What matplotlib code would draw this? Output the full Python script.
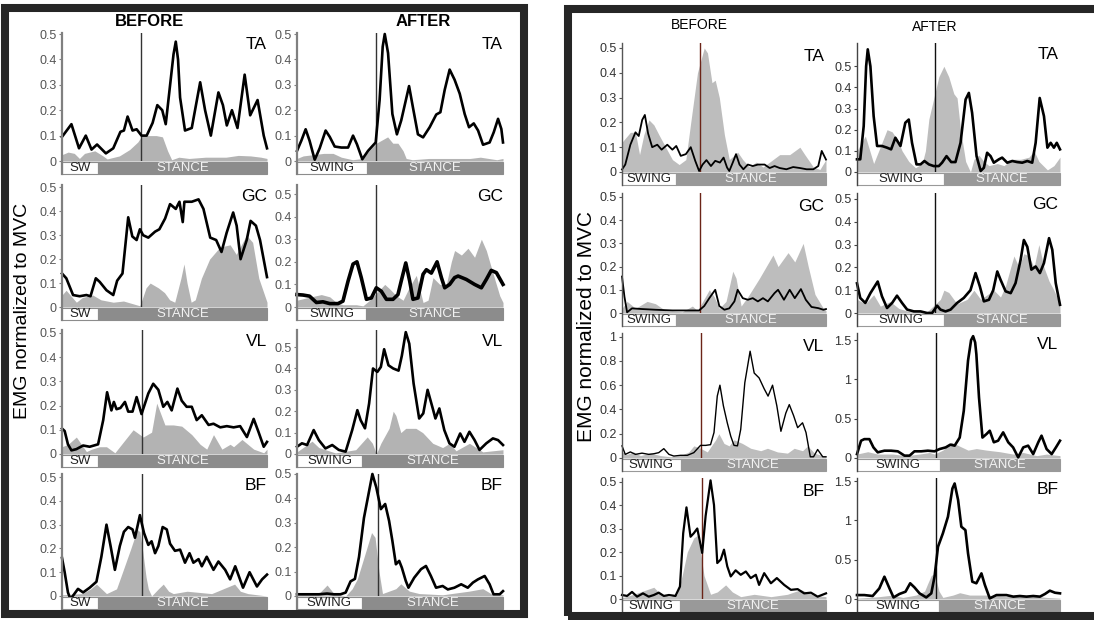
import matplotlib
matplotlib.use('Agg')
import matplotlib.pyplot as plt
from matplotlib.patches import Rectangle
from matplotlib.lines import Line2D
from matplotlib.ticker import FuncFormatter

plt.rcParams['font.family'] = ['Liberation Sans', 'DejaVu Sans']

W, H = 1094, 620
MUSCLES = ['TA', 'GC', 'VL', 'BF']

# ---- gait cycle events (% of cycle) ----
P1_BEFORE_SWING = [17.6, 17.6, 17.6, 17.6]
P1_BEFORE_CONTACT = [38.5, 38.3, 38.8, 38.8]
P1_AFTER_SWING = [34, 33.7, 31.7, 31.4]
P1_AFTER_CONTACT = [38.2, 38.2, 38.5, 39.5]
P2_BEFORE_SWING = [26.6, 26.6, 28.7, 28.4]
P2_BEFORE_CONTACT = [38.2, 38.2, 38.9, 39.3]
P2_AFTER_SWING = [42.8, 42.8, 40.7, 40.4]
P2_AFTER_CONTACT = [38.2, 38.2, 39, 39]

# ---- y range shown and ticks ----
T5 = [0, 0.1, 0.2, 0.3, 0.4, 0.5]
P1_BEFORE_YTOP = [0.504, 0.51, 0.512, 0.513]
P1_AFTER_YTOP = [0.504, 0.54, 0.58, 0.5]
P2_BEFORE_YTOP = [0.52, 0.517, 1.03, 0.515]
P2_AFTER_YTOP = [0.61, 0.526, 1.59, 1.54]
P2_BEFORE_TICKS = [T5, T5, [0, 0.2, 0.4, 0.6, 0.8, 1], T5]
P2_AFTER_TICKS = [T5, T5, [0, 0.5, 1, 1.5], [0, 0.5, 1, 1.5]]

# ---- EMG traces: (% gait cycle, EMG / MVC) ----
P1_BEFORE_TA_LINE = [(0, .095), (4.6, .145), (8.3, .05), (11.6, .10), (14.4, .045), (17.1, .065), (21.4, .03),
                     (25, .05), (28.5, .115), (30.2, .12), (32, .175), (34.4, .12), (36.4, .125), (38.8, .10),
                     (41.3, .10), (44.2, .15), (46.5, .22), (48.9, .20), (50.6, .145), (54.4, .42), (55.5, .47),
                     (56.6, .40), (57.6, .25), (60, .12), (63.3, .13), (67.4, .31), (69.8, .20), (72.6, .10),
                     (76.3, .27), (78.5, .22), (80.4, .14), (82.9, .20), (85.6, .13), (89.1, .34), (91.8, .18),
                     (95.4, .24), (98.4, .10), (100, .05)]
P1_BEFORE_TA_FILL = [(0, .025), (3, .035), (6, .03), (8.5, .01), (11, .03), (16, .04), (20, .02), (22, .008),
                     (28, .02), (33, .045), (37, .075), (39, .1), (46, .1), (49, .095), (51.5, .04), (53.5, .005),
                     (57, .015), (62, .01), (70, .015), (80, .015), (86, .022), (92, .02), (97, .015), (100, .01)]
P1_BEFORE_GC_LINE = [(0, .14), (2.1, .12), (5.4, .05), (8.6, .045), (11.9, .05), (13.9, .045), (16.5, .12),
                     (18.4, .105), (21.7, .07), (25, .05), (26.9, .11), (29.5, .14), (32.3, .375), (34.3, .295),
                     (36.4, .28), (38, .325), (39.6, .30), (42.1, .29), (45.4, .315), (47.5, .325), (50.3, .37),
                     (52.7, .43), (55.5, .41), (57.3, .44), (58.9, .355), (59.7, .44), (63.3, .44), (66.6, .45),
                     (69, .41), (72.3, .29), (75.2, .28), (77.8, .23), (80.3, .31), (83.5, .395), (85.2, .34),
                     (87.1, .20), (90.1, .28), (92, .36), (94.6, .34), (96.6, .28), (100, .125)]
P1_BEFORE_GC_FILL = [(0, .05), (2, .07), (5, .04), (7, .02), (10, .04), (15, .05), (19, .03), (25, .02), (30, .025),
                     (34, .015), (38, .005), (41, .08), (43, .1), (47, .08), (50, .06), (52.5, .03), (55, .02),
                     (58, .12), (59.5, .18), (61, .1), (63, .02), (65, .03), (68, .12), (72, .2), (77, .25),
                     (82, .26), (85, .22), (90, .3), (93, .27), (96, .12), (100, .02)]
P1_BEFORE_VL_LINE = [(0, .105), (1.3, .095), (2.9, .04), (4.6, .015), (7, .02), (10.3, .035), (13.5, .03),
                     (17.6, .04), (20.1, .14), (22, .255), (24.1, .18), (25.3, .215), (26.6, .185), (28.5, .19),
                     (30.7, .215), (32.3, .175), (34.4, .175), (36.4, .235), (38.8, .165), (42.1, .25), (44.5, .29),
                     (47, .265), (49.4, .195), (51.4, .215), (53.5, .18), (56.3, .27), (58.4, .22), (60.8, .195),
                     (63.3, .195), (65.7, .14), (68.2, .16), (71.5, .12), (73.9, .125), (77.2, .11), (80.4, .115),
                     (83.7, .11), (86.9, .115), (90.2, .07), (93.5, .145), (95.9, .09), (98.4, .03), (100, .05)]
P1_BEFORE_VL_FILL = [(0, .03), (3, .04), (7, .07), (11.9, .01), (14.5, .02), (18.4, .03), (21.7, .03), (25.8, .005),
                     (30, .05), (34.7, .10), (39.6, .07), (43.7, .09), (46.2, .21), (50.2, .12), (54.3, .12),
                     (58.4, .115), (63.3, .08), (67.4, .04), (70.6, .02), (73.9, .08), (78, .02), (82, .04),
                     (83.7, .03), (87.8, .06), (93.5, .02), (98.4, .005), (100, .02)]
P1_BEFORE_BF_LINE = [(0, .16), (1.3, .10), (2.9, .015), (4.1, -.012), (5.7, .005), (7.8, .03), (10.3, .015),
                     (13.5, .035), (16.8, .06), (19.2, .165), (21.7, .30), (23.7, .21), (25.8, .11), (28.2, .21),
                     (30.2, .27), (32.3, .29), (34.4, .28), (35.6, .245), (38, .34), (40, .265), (42.1, .215),
                     (43.7, .23), (45.4, .18), (47, .21), (49.1, .29), (51.1, .28), (52.7, .22), (55.1, .19),
                     (57.6, .195), (60, .14), (62.2, .18), (64.1, .14), (66.6, .155), (68.2, .125), (70.6, .165),
                     (73.9, .11), (76.3, .145), (79.6, .11), (82, .07), (84.5, .125), (88.3, .035), (91.5, .10),
                     (95.1, .04), (97.6, .07), (100, .09)]
P1_BEFORE_BF_FILL = [(0, .005), (10, .01), (14, .03), (16.8, .05), (21.7, .01), (26.6, .03), (29.5, .1), (33.6, .2),
                     (36.7, .28), (38, .27), (39.2, .2), (41, .08), (42.1, .03), (43.7, .0), (47, .03), (49.4, .05),
                     (52, .02), (54.3, .01), (61, .02), (73, .01), (84.2, .05), (87, .02), (90.7, .01), (100, .0)]

P1_AFTER_TA_LINE = [(0, .04), (2.1, .08), (4.2, .125), (6.1, .08), (8.6, .005), (11, .05), (13.9, .12),
                    (15.9, .095), (18.3, .057), (21.5, .053), (24.8, .053), (27.2, .10), (29.1, .066), (31.7, .007),
                    (34.5, .04), (38.2, .073), (40.1, .24), (41.6, .45), (42.6, .50), (44.2, .425), (46.3, .185),
                    (48.5, .105), (50.6, .16), (54.4, .295), (56.3, .21), (58.7, .105), (61.2, .093), (64.4, .133),
                    (67.6, .183), (69.6, .192), (71.7, .28), (74.1, .36), (76.5, .32), (79, .265), (81.4, .185),
                    (83.5, .133), (85.8, .148), (87.9, .12), (90.3, .064), (93.5, .073), (95.5, .113),
                    (97.6, .166), (99.2, .126), (100, .073)]
P1_AFTER_TA_FILL = [(0, .01), (3, .02), (13, .03), (17.5, .03), (21.5, .015), (27, .005), (32, .01), (35, .04),
                    (38.5, .07), (44, .095), (46.5, .07), (49, .07), (51.5, .04), (53, .01), (56, .005), (64, .01),
                    (84, .01), (89, .015), (97, .005), (100, .01)]
P1_AFTER_GC_LINE = [(0, .055), (2.9, .053), (6.1, .048), (9.4, .02), (12.6, .023), (15.9, .015), (19.9, .015),
                    (22.3, .026), (24.8, .115), (27.2, .19), (29.1, .20), (31.2, .13), (33.7, .034), (36.1, .04),
                    (38.5, .085), (40.9, .07), (43.4, .034), (46.6, .034), (49, .055), (50.6, .115), (52.8, .195),
                    (54.7, .115), (56.3, .034), (58.7, .04), (61.2, .145), (62.8, .165), (65.2, .15), (68, .20),
                    (70.1, .13), (71.7, .085), (74.1, .10), (76.5, .13), (78.2, .137), (82.2, .122), (86.2, .10),
                    (89.5, .085), (91.9, .122), (94.3, .162), (96.8, .152), (100, .10)]
P1_AFTER_GC_FILL = [(0, .03), (4.5, .04), (11.8, .055), (15.9, .045), (19.1, .02), (22.3, .01), (28.8, .01),
                    (32, .005), (35.3, .03), (42.6, .10), (45, .08), (48.2, .05), (51.5, .03), (54.7, .09),
                    (57.9, .14), (61.2, .02), (63.6, .03), (66, .13), (69.3, .10), (72.5, .10), (74.9, .20),
                    (76.5, .25), (79.8, .23), (83, .26), (86.2, .22), (89.5, .30), (91.9, .25), (95.1, .15),
                    (98.4, .05), (100, .02)]
P1_AFTER_VL_LINE = [(0, .034), (2.4, .05), (4.9, .042), (8.1, .112), (10.6, .065), (13.8, .026), (17.1, .042),
                    (20.3, .019), (23.6, .011), (26.8, .112), (29.3, .205), (30.9, .158), (33, .12), (35, .236),
                    (36.9, .40), (39, .384), (40.7, .407), (42.3, .49), (44.4, .415), (46.7, .40), (49.3, .39),
                    (50.9, .46), (52.8, .57), (54.5, .516), (56.6, .33), (59.3, .166), (61.3, .19), (63.4, .30),
                    (65.9, .213), (67.2, .166), (69.1, .213), (71.5, .112), (74, .05), (76.4, .034), (79.2, .096),
                    (81.3, .057), (83.7, .104), (86.2, .065), (88.6, .019), (91.9, .05), (95.1, .073),
                    (97.6, .065), (100, .042)]
P1_AFTER_VL_FILL = [(0, .01), (7.3, .06), (10.6, .03), (18.7, .005), (28.5, .02), (34.1, .08), (36.6, .05),
                    (38.5, .0), (40.7, .05), (44.7, .12), (46.7, .20), (48, .18), (50.4, .10), (52.8, .12),
                    (57.7, .12), (61, .10), (65.9, .05), (70.7, .03), (74, .05), (77.2, .015), (83.7, .05),
                    (90.2, .01), (100, .02)]
P1_AFTER_BF_LINE = [(0, .007), (5.7, .007), (10.6, .007), (14.6, .01), (17.9, .007), (21.1, .007), (23.6, .014),
                    (26, .06), (28.1, .07), (30.1, .16), (32.5, .32), (35, .43), (36.6, .50), (38.5, .445),
                    (40.7, .356), (42.8, .377), (44.7, .308), (46.3, .226), (48, .13), (49.6, .144), (50.9, .116),
                    (52.8, .062), (54.1, .034), (56.9, .075), (60.2, .11), (62.6, .123), (65, .082), (67.5, .034),
                    (70.7, .041), (73.2, .027), (76.4, .034), (79.7, .048), (82.9, .034), (85.4, .055),
                    (87.8, .068), (91.1, .082), (93.5, .048), (95.4, .007), (98.4, .007), (100, .02)]
P1_AFTER_BF_FILL = [(0, .005), (10.6, .01), (14.6, .045), (17.9, .01), (23.6, .0), (26.8, .03), (29.3, .07),
                    (33.3, .18), (36.2, .26), (37.9, .24), (39.8, .10), (41.5, .01), (48, .03), (50.4, .05),
                    (54.5, .02), (59.3, .01), (70.7, .005), (83.7, .02), (90.2, .03), (95.1, .005), (100, .005)]

P2_BEFORE_TA_LINE = [(0, .01), (1.6, .03), (4.1, .11), (6.6, .16), (8.2, .145), (9.9, .21), (11.2, .23),
                     (12.8, .155), (14.8, .10), (17.3, .11), (19.4, .09), (22.2, .11), (24.7, .09), (26.6, .105),
                     (28.8, .065), (31.3, .072), (33.7, .10), (35.9, .045), (37.8, .004), (39.5, .03), (41.4, .048),
                     (43.6, .024), (45.7, .045), (48, .038), (49.8, .058), (51.5, .018), (52.6, .004), (54.3, .038),
                     (55.9, .072), (57.6, .03), (59.5, .011), (61.7, .03), (64.1, .024), (66.6, .03), (69.9, .03),
                     (72.4, .016), (74.8, .024), (77.3, .016), (80.6, .011), (83.9, .02), (87.2, .016),
                     (90.5, .011), (93.8, .011), (96.2, .024), (97.9, .085), (100, .05)]
P2_BEFORE_TA_FILL = [(0, .12), (4.1, .16), (6.6, .16), (8.6, .07), (10.7, .15), (13.2, .21), (15.6, .19),
                     (18.1, .15), (21.4, .10), (24.7, .05), (28, .03), (31.3, .05), (33.7, .2), (37, .40),
                     (40.3, .50), (41.9, .48), (44.1, .36), (45.7, .37), (47.7, .30), (50.2, .15), (52.6, .05),
                     (56.7, .08), (59.2, .05), (62.5, .02), (65.8, .04), (69.1, .02), (72.4, .04), (77.3, .07),
                     (82.2, .07), (87.2, .10), (89.6, .07), (93.8, .02), (97, .01), (100, .05)]
P2_BEFORE_GC_LINE = [(0, .157), (1.2, .07), (2.5, .003), (4.9, .02), (9.9, .017), (16.4, .014), (24.7, .011),
                     (32.9, .011), (37.8, .011), (40.3, .03), (42.8, .064), (45.7, .10), (47.7, .03), (50.2, .014),
                     (52.6, .02), (55.1, .05), (56.7, .10), (59.2, .064), (61.7, .057), (64.1, .064), (66.6, .05),
                     (69.1, .064), (71.5, .05), (74.8, .086), (76.5, .10), (79.4, .057), (82.2, .10), (84.7, .064),
                     (87.7, .103), (90.1, .057), (92.9, .026), (96.2, .021), (98.7, .014), (100, .017)]
P2_BEFORE_GC_FILL = [(0, .02), (2.5, .05), (6.6, .02), (12.3, .05), (16.4, .04), (21.4, .01), (29.6, .005),
                     (34.5, .03), (37, .01), (42.8, .10), (45.2, .07), (47.7, .02), (51, .05), (54.3, .18),
                     (55.9, .15), (58.4, .03), (61.7, .07), (67.4, .15), (74, .25), (76.5, .20), (81.4, .26),
                     (84.7, .22), (88.8, .30), (91.3, .20), (94.6, .08), (98.7, .02), (100, .01)]
P2_BEFORE_VL_LINE = [(0, .10), (1.6, .03), (4.1, .05), (6.6, .03), (9.8, .04), (13.1, .03), (15.6, .035),
                     (18, .044), (20.5, .077), (23, .03), (25.4, .016), (28.7, .022), (32, .022), (35.2, .044),
                     (38.5, .104), (41, .104), (43.4, .11), (45.1, .21), (46.7, .51), (48, .60), (49.7, .43),
                     (51.6, .29), (53.3, .18), (54.9, .104), (56.6, .10), (58.2, .236), (60.2, .62), (62.8, .88),
                     (64.8, .70), (67.2, .66), (69.7, .57), (71.6, .51), (73.8, .60), (75.9, .43), (77.9, .22),
                     (80.3, .37), (82, .44), (84.1, .35), (86.1, .25), (88.5, .29), (90.2, .21), (92.3, .01),
                     (93.9, .01), (95.9, .07), (98.4, .01), (100, .01)]
P2_BEFORE_VL_FILL = [(0, .05), (2.5, .03), (5.7, .05), (9, .02), (13.9, .04), (18.9, .02), (23.8, .01),
                     (28.7, .02), (32.8, .05), (35.2, .10), (38.5, .08), (41.8, .05), (45.9, .15), (47.5, .20),
                     (50, .12), (52.5, .10), (54.9, .15), (59, .12), (63.1, .08), (68, .06), (71.3, .08),
                     (76.2, .05), (81.1, .04), (84.4, .08), (88.5, .06), (91, .10), (94.3, .04), (100, .01)]
P2_BEFORE_BF_LINE = [(0, .017), (2.5, .013), (4.9, .03), (7.4, .01), (10.3, .024), (13.1, .01), (15.6, .017),
                     (18, .027), (20.5, .013), (23, .017), (26.2, .013), (28.4, .053), (30, .28), (31.6, .39),
                     (33.6, .265), (35.2, .28), (36.9, .30), (39.3, .196), (41, .354), (43.4, .505), (45.1, .40),
                     (46.7, .153), (48.4, .168), (50, .21), (51.6, .139), (53.3, .096), (55.7, .122), (58.2, .103),
                     (60.7, .117), (63.1, .089), (65.6, .103), (67.2, .06), (69.7, .11), (73, .067), (75.9, .089),
                     (79.5, .06), (82.8, .039), (86.1, .042), (89.3, .024), (92.6, .027), (95.9, .01), (100, .024)]
P2_BEFORE_BF_FILL = [(0, .005), (5.7, .02), (9, .03), (15.6, .05), (18.9, .02), (23.8, .01), (27, .02),
                     (29.5, .10), (32, .20), (35.2, .26), (36.9, .27), (38.5, .20), (40.2, .10), (43.4, .02),
                     (46.7, .03), (50.8, .06), (54.1, .03), (58.2, .01), (64.8, .02), (73, .01), (81.1, .02),
                     (87.7, .04), (94.3, .015), (100, .01)]

P2_AFTER_TA_LINE = [(0, .06), (1.6, .06), (3.3, .217), (4.5, .50), (5.3, .58), (6.6, .50), (8.2, .264), (9.9, .123),
                    (12.3, .123), (14.8, .115), (16.8, .107), (18.9, .162), (21.4, .123), (23.8, .233),
                    (25.5, .248), (27.1, .138), (29.3, .036), (31.3, .036), (33.2, .052), (35.4, .036),
                    (37.8, .028), (40.3, .028), (41.9, .044), (44.1, .075), (46.4, .047), (48.5, .047),
                    (51, .138), (53.5, .343), (55.1, .374), (56.7, .28), (58.9, .075), (60.9, .005), (62.5, .02),
                    (64.1, .091), (65.8, .075), (67.4, .044), (69.9, .06), (71.5, .068), (74, .044), (76.5, .052),
                    (78.9, .047), (81.4, .044), (83.9, .052), (86.3, .044), (88, .138), (90, .35), (92.1, .264),
                    (93.8, .115), (95.4, .138), (97, .115), (98.4, .138), (100, .107)]
P2_AFTER_TA_FILL = [(0, .10), (4.1, .17), (8.2, .04), (10.7, .10), (14.8, .20), (17.3, .19), (20.1, .15),
                    (22.2, .10), (25.5, .05), (28.8, .02), (32.1, .04), (33.7, .10), (35.4, .25), (40.3, .45),
                    (42.8, .50), (45.2, .45), (47.7, .37), (49.3, .35), (51, .20), (53.5, .05), (55.9, .0),
                    (57.6, .06), (60, .08), (62.5, .05), (65, .03), (69.1, .04), (72.4, .03), (76.5, .06),
                    (80.6, .06), (84.7, .07), (87.2, .10), (89.6, .05), (93.8, .01), (97, .03), (100, .07)]
P2_AFTER_GC_LINE = [(0, .13), (1.6, .066), (4.1, .044), (6.6, .087), (10.2, .138), (12.3, .073), (14.8, .022),
                    (17.3, .044), (19.7, .076), (22.2, .044), (24.7, .015), (28, .007), (31.3, .007), (34.5, .0),
                    (37, .0), (39.5, .032), (41.1, .015), (43.6, .007), (46.1, .015), (49.3, .044), (52.6, .066),
                    (55.9, .10), (58.4, .175), (60.5, .117), (62.5, .051), (65, .058), (67.1, .10), (69.1, .182),
                    (70.7, .146), (73.2, .095), (75.7, .087), (78.1, .131), (80.6, .233), (82.2, .32), (83.9, .29),
                    (85.9, .19), (88, .204), (90.1, .175), (92.1, .219), (94.6, .328), (96.2, .277), (97.9, .131),
                    (100, .036)]
P2_AFTER_GC_FILL = [(0, .06), (4.1, .04), (8.2, .08), (11.5, .03), (16.4, .05), (20.6, .02), (26.3, .005),
                    (34.5, .005), (41.1, .06), (42.8, .10), (45.2, .09), (49.3, .04), (54.3, .06), (57.6, .10),
                    (60.9, .06), (67.4, .10), (70.7, .07), (73.2, .12), (75.7, .20), (77.3, .25), (79.8, .20),
                    (82.2, .26), (84.7, .25), (87.2, .20), (89.6, .30), (92.1, .20), (94.6, .14), (97, .10),
                    (100, .04)]
P2_AFTER_VL_LINE = [(0, .05), (2, .22), (3.6, .24), (6.1, .24), (8.1, .135), (10.2, .072), (13.5, .093),
                    (16.8, .093), (20.1, .085), (23.4, .03), (25.9, .03), (28.3, .085), (31.6, .085), (34.9, .093),
                    (38.2, .085), (40.7, .114), (43.7, .135), (46, .17), (48.1, .157), (50.6, .26), (52.6, .60),
                    (54.7, 1.24), (56.2, 1.5), (57.2, 1.55), (58.2, 1.47), (58.8, 1.32), (60.1, .77), (61.8, .26),
                    (63.8, .305), (65.4, .347), (67.4, .20), (69.5, .22), (72, .326), (74.5, .20), (76.9, .135),
                    (79.4, .008), (81.9, .135), (84.3, .157), (86.8, .05), (89.3, .20), (90.9, .284), (93.4, .114),
                    (95.9, .05), (98, .135), (100, .22)]
P2_AFTER_VL_FILL = [(0, .05), (5.3, .08), (10.2, .05), (17.6, .05), (24.2, .03), (30.8, .05), (35.7, .07),
                    (38.2, .05), (42.3, .10), (46.5, .20), (50.6, .15), (54.7, .10), (58.8, .12), (63.8, .10),
                    (70.3, .08), (76.9, .05), (81.9, .07), (88.5, .03), (93.4, .05), (100, .03)]
P2_AFTER_BF_LINE = [(0, .05), (3.6, .05), (7.7, .038), (11, .135), (13.5, .284), (16, .135), (18, .02),
                    (20.9, .064), (23.9, .093), (26.2, .20), (28.3, .148), (30.8, .072), (34.1, .02), (36.6, .072),
                    (38.2, .284), (39.9, .665), (42.3, .835), (44.8, 1.047), (47, 1.406), (48.1, 1.47),
                    (49.8, 1.26), (51.4, .92), (53.4, .877), (54.7, .58), (56.8, .22), (58.8, .20), (61.3, .326),
                    (63, .178), (65.4, .008), (68.7, .05), (73.6, .05), (77, .03), (80.2, .038), (83.5, .03),
                    (86.8, .038), (90.1, .03), (92.6, .064), (95, .106), (97.5, .08), (100, .072)]
P2_AFTER_BF_FILL = [(0, .01), (11, .03), (17.6, .05), (22.6, .02), (29.1, .05), (33.3, .10), (34.9, .20),
                    (36.6, .30), (38.2, .32), (40.4, .10), (42.3, .02), (47.3, .05), (50.6, .08), (55.5, .05),
                    (63.8, .05), (73.6, .03), (83.5, .05), (93.4, .02), (100, .01)]

P1_BEFORE = [(P1_BEFORE_TA_LINE, P1_BEFORE_TA_FILL), (P1_BEFORE_GC_LINE, P1_BEFORE_GC_FILL),
             (P1_BEFORE_VL_LINE, P1_BEFORE_VL_FILL), (P1_BEFORE_BF_LINE, P1_BEFORE_BF_FILL)]
P1_AFTER = [(P1_AFTER_TA_LINE, P1_AFTER_TA_FILL), (P1_AFTER_GC_LINE, P1_AFTER_GC_FILL),
            (P1_AFTER_VL_LINE, P1_AFTER_VL_FILL), (P1_AFTER_BF_LINE, P1_AFTER_BF_FILL)]
P2_BEFORE = [(P2_BEFORE_TA_LINE, P2_BEFORE_TA_FILL), (P2_BEFORE_GC_LINE, P2_BEFORE_GC_FILL),
             (P2_BEFORE_VL_LINE, P2_BEFORE_VL_FILL), (P2_BEFORE_BF_LINE, P2_BEFORE_BF_FILL)]
P2_AFTER = [(P2_AFTER_TA_LINE, P2_AFTER_TA_FILL), (P2_AFTER_GC_LINE, P2_AFTER_GC_FILL),
            (P2_AFTER_VL_LINE, P2_AFTER_VL_FILL), (P2_AFTER_BF_LINE, P2_AFTER_BF_FILL)]

# layout in pixels: (zero line y, top y) for each row
P1_ROWS = [(161, 33), (307, 185), (454, 330), (596, 474)]
P2_ROWS = [(172, 43), (313, 193), (458, 333), (599, 478)]

fig = plt.figure(figsize=(W / 100, H / 100), dpi=100)


def fx(px):
    return px / W


def fy(py):
    return 1 - py / H


def add_subplot(x0, x1, row, ymax, ticks, curves, swing, contact, swing_text, style):
    zero, top = row
    ax = fig.add_axes([fx(x0), fy(zero), (x1 - x0) / W, (zero - top) / H])
    ax.patch.set_alpha(0)
    ax.set_xlim(0, 100)
    ax.set_ylim(0, ymax)
    line, fill = curves
    fx_, fy_ = zip(*fill)
    ax.fill_between(fx_, fy_, 0, color=style['fill'], lw=0, zorder=1)
    lx, ly = zip(*line)
    ax.plot(lx, ly, color='black', lw=style['lw'], solid_joinstyle='round', clip_on=False, zorder=3)
    ax.axvline(contact, color=style['vline'], lw=1.0, zorder=2)
    for s in ax.spines.values():
        s.set_visible(False)
    ax.set_xticks([])
    ax.set_yticks(ticks)
    ax.yaxis.set_major_formatter(FuncFormatter(lambda v, _: '%g' % v))
    ax.tick_params(axis='y', length=2, width=0.8, color=style['axis'], pad=2,
                   labelsize=9, labelcolor=style['ticklabel'])

    # swing / stance bar under the trace
    hpx = zero - top
    b0 = -13 / hpx
    bh = 12 / hpx
    tr = ax.get_xaxis_transform()
    ax.add_patch(Rectangle((0, b0), swing, bh, transform=tr, facecolor='white',
                           edgecolor=style['bar'], lw=0.8, clip_on=False, zorder=4))
    ax.add_patch(Rectangle((swing, b0), 100 - swing, bh, transform=tr, facecolor=style['bar'],
                           edgecolor=style['bar'], lw=0.8, clip_on=False, zorder=4))
    ax.text(swing / 2, b0 + bh / 2, swing_text, transform=tr, ha='center', va='center',
            fontsize=9.5, color='#222222', zorder=5, clip_on=False)
    ax.text((100 + swing) / 2, b0 + bh / 2, 'STANCE', transform=tr, ha='center', va='center',
            fontsize=9.5, color='#f2f2f2', zorder=5, clip_on=False)

    # y axis line running down through the bar
    ax.add_line(Line2D([0, 0], [b0, 1], transform=ax.transAxes, color=style['axis'],
                       lw=style['axis_lw'], clip_on=False, zorder=6))
    return ax


STYLE_P1 = dict(fill='#b3b3b3', bar='#8c8c8c', axis='#808080', axis_lw=1.6, vline='#333333',
                ticklabel='#555555', lw=1.9)

# ---- left figure ----
for i, m in enumerate(MUSCLES):
    ax = add_subplot(62, 267, P1_ROWS[i], P1_BEFORE_YTOP[i], T5, P1_BEFORE[i],
                     P1_BEFORE_SWING[i], P1_BEFORE_CONTACT[i], 'SW', STYLE_P1)
    ax.annotate(m, xy=(1, 1), xycoords='axes fraction', xytext=(0, -3), textcoords='offset points',
                ha='right', va='top', fontsize=12.5)
    st = dict(STYLE_P1)
    if m == 'GC':
        st['lw'] = 2.6
    ax = add_subplot(297, 503, P1_ROWS[i], P1_AFTER_YTOP[i], T5, P1_AFTER[i],
                     P1_AFTER_SWING[i], P1_AFTER_CONTACT[i], 'SWING', st)
    ax.annotate(m, xy=(1, 1), xycoords='axes fraction', xytext=(0, -3), textcoords='offset points',
                ha='right', va='top', fontsize=12.5)

# ---- right figure ----
P2_BEFORE_LW = [1.3, 1.3, 1.0, 1.6]
for i, m in enumerate(MUSCLES):
    st = dict(fill='#bdbdbd', bar='#999999', axis='#555555', axis_lw=1.0, vline='#6b2418',
              ticklabel='#333333', lw=P2_BEFORE_LW[i])
    ax = add_subplot(622, 826, P2_ROWS[i], P2_BEFORE_YTOP[i], P2_BEFORE_TICKS[i], P2_BEFORE[i],
                     P2_BEFORE_SWING[i], P2_BEFORE_CONTACT[i], 'SWING', st)
    ax.annotate(m, xy=(1, 1), xycoords='axes fraction', xytext=(-1, -4), textcoords='offset points',
                ha='right', va='top', fontsize=12.5)
    st = dict(fill='#bdbdbd', bar='#999999', axis='#444444', axis_lw=1.0, vline='#111111',
              ticklabel='#333333', lw=1.9)
    ax = add_subplot(857, 1060, P2_ROWS[i], P2_AFTER_YTOP[i], P2_AFTER_TICKS[i], P2_AFTER[i],
                     P2_AFTER_SWING[i], P2_AFTER_CONTACT[i], 'SWING', st)
    ax.annotate(m, xy=(1, 1), xycoords='axes fraction', xytext=(-1, -3), textcoords='offset points',
                ha='right', va='top', fontsize=12.5)

# titles and y labels
fig.text(fx(150), fy(21), 'BEFORE', ha='center', va='center', fontsize=12, fontweight='bold')
fig.text(fx(423), fy(21), 'AFTER', ha='center', va='center', fontsize=12, fontweight='bold')
fig.text(fx(699), fy(25), 'BEFORE', ha='center', va='center', fontsize=10)
fig.text(fx(935), fy(27), 'AFTER', ha='center', va='center', fontsize=10)
fig.text(fx(23), fy(311), 'EMG normalized to MVC', rotation=90, ha='center', va='center', fontsize=14)
fig.text(fx(587), fy(327), 'EMG normalized to MVC', rotation=90, ha='center', va='center', fontsize=15)

# dark frames around the two figures
fig.add_artist(Rectangle((fx(5), fy(614)), (523.5 - 5) / W, (614 - 8) / H, transform=fig.transFigure,
                         fill=False, lw=5.8, ec='#262626'))
fig.add_artist(Rectangle((fx(568), fy(616)), (1110 - 568) / W, (616 - 9) / H, transform=fig.transFigure,
                         fill=False, lw=5.8, ec='#262626'))

fig.savefig('out.png', dpi=100)
